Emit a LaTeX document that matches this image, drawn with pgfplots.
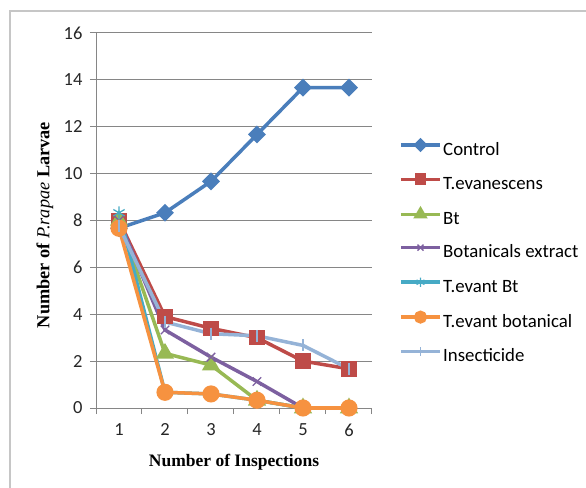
\documentclass[border=0pt]{standalone}
\usepackage{fontspec}
\setmainfont{Carlito}
\newfontfamily\tnr{Liberation Serif}
\usepackage{pgfplots}
\pgfplotsset{compat=1.18}

\definecolor{cControl}{HTML}{4A7EBB}
\definecolor{cTeva}{HTML}{BE4B48}
\definecolor{cBt}{HTML}{98B954}
\definecolor{cBot}{HTML}{7D60A0}
\definecolor{cTBt}{HTML}{46AAC5}
\definecolor{cTBot}{HTML}{F69240}
\definecolor{cIns}{HTML}{95B3D7}
\definecolor{axgray}{HTML}{868686}

\begin{document}
\begin{tikzpicture}
\draw[line width=2bp, gray!45] (10bp,-5bp) -- (10bp,477bp) -- (600bp,477bp);
\begin{axis}[
    at={(96bp,80bp)}, anchor=south west,
    scale only axis, width=276bp, height=375bp,
    xmin=0.5, xmax=6.5, ymin=0, ymax=16,
    axis lines*=left,
    axis line style={axgray, line width=1bp},
    xtick={1,...,6}, ytick={0,2,...,16},
    minor xtick={0.5,1.5,...,6.5},
    major x tick style={draw=none},
    tick align=outside, tick style={axgray, line width=1bp},
    major tick length=6bp, minor tick length=6bp,
    ymajorgrids, grid style={axgray, line width=1bp},
    /pgf/number format/assume math mode=true,
    tick label style={font=\fontsize{18.5bp}{22bp}\selectfont, text=black!85},
    xticklabel style={yshift=-6bp},
    yticklabel style={xshift=-4bp},
    xlabel={\tnr\bfseries Number of Inspections},
    ylabel={\tnr\bfseries Number of \textit{\mdseries P.rapae} Larvae},
    xlabel style={at={(rel axis cs:0.5,-0.144)}, anchor=center,
        font=\fontsize{17.5bp}{21bp}\selectfont},
    ylabel style={at={(rel axis cs:-0.185,0.488)}, anchor=center,
        font=\fontsize{18.3bp}{21bp}\selectfont},
    clip=false,
    every axis plot/.append style={line width=3.5bp},
    legend style={at={(rel axis cs:1.098,0.714)}, anchor=north west,
        draw=none, fill=none, inner sep=0pt,
        font=\fontsize{18.8bp}{22bp}\selectfont,
        nodes={inner sep=0pt, text height=13.5bp, text depth=4.5bp},
        row sep=15.3bp, column sep=1.5bp},
    legend cell align=left,
    legend image code/.code={
        \draw[mark repeat=2, mark phase=2, #1, yshift=5.8bp,
              every mark/.append style={scale=0.7}]
            plot coordinates {(0bp,0bp) (19.5bp,0bp) (39bp,0bp)};},
]
% Control
\addplot[color=cControl, mark=square*, mark options={rotate=45, solid}, mark size=4.6bp]
    coordinates {(1,7.67) (2,8.33) (3,9.67) (4,11.67) (5,13.67) (6,13.67)};
\addlegendentry{Control}
% T.evanescens
\addplot[color=cTeva, mark=square*, mark size=6bp]
    coordinates {(1,8) (2,3.9) (3,3.4) (4,3.0) (5,2.0) (6,1.67)};
\addlegendentry{T.evanescens}
% Bt
\addplot[color=cBt, mark=triangle*, mark size=7bp]
    coordinates {(1,8) (2,2.33) (3,1.83) (4,0.33) (5,0) (6,0)};
\addlegendentry{Bt}
% Botanicals extract
\addplot[color=cBot, mark=x, mark size=6bp, mark options={line width=1.3bp}]
    coordinates {(1,8) (2,3.33) (3,2.17) (4,1.13) (5,0) (6,0)};
\addlegendentry{Botanicals extract}
% T.evant Bt
\addplot[color=cTBt, mark=asterisk, mark size=6.5bp, mark options={line width=1.3bp}]
    coordinates {(1,8.33) (2,0.67) (3,0.6) (4,0.33) (5,0) (6,0)};
\addlegendentry{T.evant Bt}
% T.evant botanical
\addplot[color=cTBot, mark=*, mark size=6.8bp]
    coordinates {(1,7.67) (2,0.67) (3,0.6) (4,0.33) (5,0) (6,0)};
\addlegendentry{T.evant botanical}
% Insecticide
\addplot[color=cIns, mark=|, mark size=6bp, mark options={line width=1.2bp}]
    coordinates {(1,7.75) (2,3.67) (3,3.17) (4,3.08) (5,2.67) (6,1.67)};
\addlegendentry{Insecticide}
\end{axis}
\pgfresetboundingbox
\useasboundingbox (0,0) rectangle (586bp,488bp);
\end{tikzpicture}
\end{document}
